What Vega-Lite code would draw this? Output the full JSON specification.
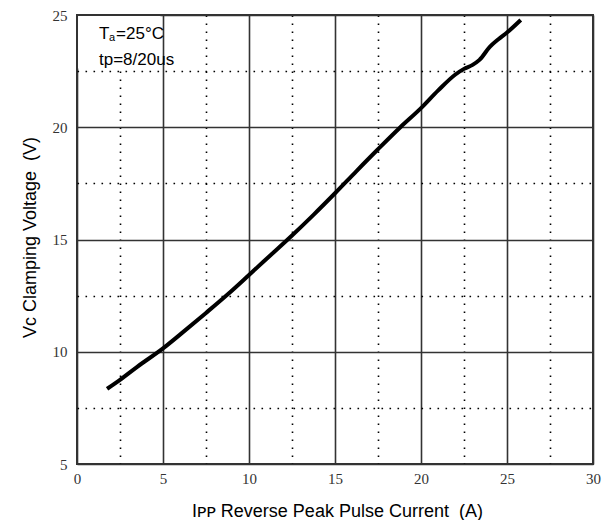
{
  "$schema": "https://vega.github.io/schema/vega-lite/v6.json",
  "width": 516,
  "height": 449,
  "autosize": {"type": "none"},
  "padding": {"left": 77, "top": 15, "right": 9, "bottom": 56},
  "background": "white",
  "config": {
    "view": {"stroke": "#333", "strokeWidth": 2},
    "axis": {
      "grid": true,
      "gridColor": {"condition": {"test": "datum.value % 5 !== 0", "value": "#000"}, "value": "#333"},
      "gridDash": {"condition": {"test": "datum.value % 5 !== 0", "value": [1.6, 6.4]}, "value": []},
      "gridWidth": 1.6,
      "ticks": false, "tickSize": 0, "domain": false,
      "labelExpr": "datum.value % 5 === 0 ? datum.label : ''",
      "labelFont": "Liberation Serif", "labelFontSize": 15, "labelColor": "#333",
      "labelFlush": false, "labelOverlap": false,
      "titleFont": "Liberation Sans", "titleFontSize": 18, "titleFontWeight": "normal", "titleColor": "black",
      "titleBaseline": "alphabetic", "titleAlign": "center"
    },
    "axisX": {"labelPadding": 7, "titleX": 260, "titleY": 52},
    "axisY": {"labelPadding": 10, "titleX": -42, "titleY": 222, "titleAngle": -90}
  },
  "datasets": {
    "curve": [
      {"i": 1.75, "v": 8.35},
      {"i": 2.5, "v": 8.75},
      {"i": 3.5, "v": 9.33},
      {"i": 5, "v": 10.15},
      {"i": 6.25, "v": 10.93},
      {"i": 7.5, "v": 11.73},
      {"i": 8.75, "v": 12.55},
      {"i": 10, "v": 13.42},
      {"i": 11.25, "v": 14.3},
      {"i": 12.5, "v": 15.18},
      {"i": 13.75, "v": 16.1},
      {"i": 15, "v": 17.06},
      {"i": 16.25, "v": 18.05},
      {"i": 17.5, "v": 19.02},
      {"i": 18.8, "v": 20.0},
      {"i": 20, "v": 20.85},
      {"i": 21, "v": 21.64},
      {"i": 22, "v": 22.35},
      {"i": 22.5, "v": 22.6},
      {"i": 23, "v": 22.78},
      {"i": 23.4, "v": 23.0},
      {"i": 24, "v": 23.58},
      {"i": 24.5, "v": 23.92},
      {"i": 25, "v": 24.22},
      {"i": 25.8, "v": 24.78}
    ],
    "box": [{"x1": 0.06, "x2": 4.85, "y1": 22.62, "y2": 24.96}],
    "one": [{}]
  },
  "layer": [
    {
      "data": {"name": "curve"},
      "mark": {"type": "line", "color": "black", "strokeWidth": 4, "interpolate": "monotone", "strokeCap": "butt"},
      "encoding": {
        "x": {
          "field": "i", "type": "quantitative",
          "scale": {"domain": [0, 30], "nice": false, "zero": false},
          "title": "Iᴘᴘ Reverse Peak Pulse Current\u00a0 (A)",
          "axis": {"values": [0, 2.5, 5, 7.5, 10, 12.5, 15, 17.5, 20, 22.5, 25, 27.5, 30]}
        },
        "y": {
          "field": "v", "type": "quantitative",
          "scale": {"domain": [5, 25], "nice": false, "zero": false},
          "title": "Vᴄ Clamping Voltage\u00a0 (V)",
          "axis": {"values": [5, 7.5, 10, 12.5, 15, 17.5, 20, 22.5, 25]}
        }
      }
    },
    {
      "data": {"name": "box"},
      "mark": {"type": "rect", "fill": "white"},
      "encoding": {
        "x": {"field": "x1", "type": "quantitative"},
        "x2": {"field": "x2"},
        "y": {"field": "y1", "type": "quantitative"},
        "y2": {"field": "y2"}
      }
    },
    {
      "data": {"name": "one"},
      "mark": {"type": "text", "text": "T", "align": "left", "baseline": "alphabetic", "font": "Liberation Sans", "fontSize": 17, "color": "black"},
      "encoding": {
        "x": {"datum": 1.28, "type": "quantitative"},
        "y": {"datum": 23.93, "type": "quantitative"}
      }
    },
    {
      "data": {"name": "one"},
      "mark": {"type": "text", "text": "a", "align": "left", "baseline": "alphabetic", "font": "Liberation Sans", "fontSize": 11, "color": "black"},
      "encoding": {
        "x": {"datum": 1.86, "type": "quantitative"},
        "y": {"datum": 23.84, "type": "quantitative"}
      }
    },
    {
      "data": {"name": "one"},
      "mark": {"type": "text", "text": "=25°C", "align": "left", "baseline": "alphabetic", "font": "Liberation Sans", "fontSize": 17, "color": "black"},
      "encoding": {
        "x": {"datum": 2.27, "type": "quantitative"},
        "y": {"datum": 23.93, "type": "quantitative"}
      }
    },
    {
      "data": {"name": "one"},
      "mark": {"type": "text", "text": "tp=8/20us", "align": "left", "baseline": "alphabetic", "font": "Liberation Sans", "fontSize": 17, "color": "black"},
      "encoding": {
        "x": {"datum": 1.28, "type": "quantitative"},
        "y": {"datum": 22.79, "type": "quantitative"}
      }
    }
  ]
}
